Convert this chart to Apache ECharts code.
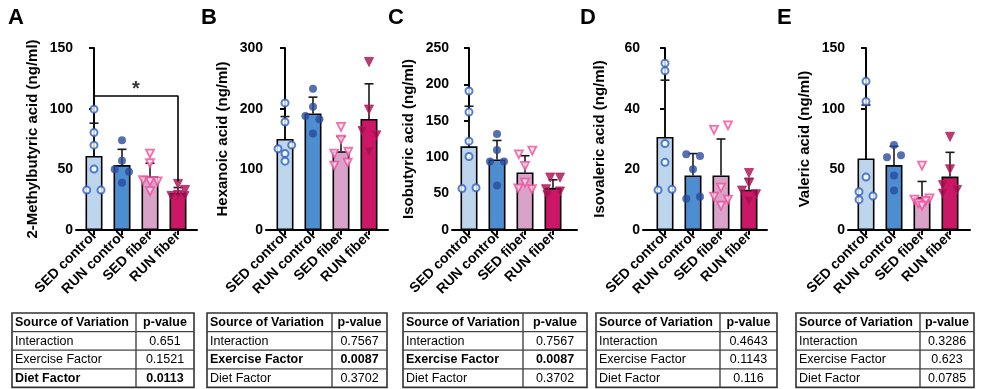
<!DOCTYPE html>
<html><head><meta charset="utf-8">
<script src="https://cdn.jsdelivr.net/npm/echarts@6/dist/echarts.min.js"></script>
<style>html,body{margin:0;padding:0;background:#fff}#c{width:981px;height:389px}</style>
</head><body><div id="c"></div>
<script>
// ---------- DATA ----------
const categories = ['SED control', 'RUN control', 'SED fiber', 'RUN fiber'];
const panelLetters = ['A', 'B', 'C', 'D', 'E'];
const yNames = ['2-Methylbutyric acid (ng/ml)', 'Hexanoic acid (ng/ml)', 'Isobutyric acid (ng/ml)', 'Isovaleric acid (ng/ml)', 'Valeric acid (ng/ml)'];
const yMax = [150, 300, 250, 60, 150];
const yStep = [50, 100, 50, 20, 50];

const meansA = [61, 53.5, 44, 30.5];
const sdA = [27, 13, 11, 4.5];
const pointsA = [[99.6, 80.4, 69.9, 50.2, 32.9, 32.9], [74, 57, 50, 48, 39], [63, 55, 41, 40, 40, 32], [38, 33, 29, 28, 28]];
const jitterA = [[0, 0, 0, 0, -0.26, 0.25], [0, 0, -0.26, 0.25, 0], [0, 0, -0.25, 0, 0.27, 0], [0, 0.25, 0, -0.23, 0.23]];

const meansB = [150, 192, 130, 183];
const sdB = [37, 27, 24, 58];
const pointsB = [[209.5, 178, 140, 134, 126, 113.5], [233, 203, 188, 182.6, 159], [170, 149, 129, 126, 111, 106], [277, 198.5, 163, 156, 129]];
const jitterB = [[0, 0, 0.24, -0.25, 0, 0], [0, 0, -0.27, 0.23, 0], [0, 0, 0.26, -0.24, 0.24, -0.24], [0, 0, -0.23, 0.26, 0]];

const meansC = [115, 97, 79, 58];
const sdC = [55, 26, 23, 11];
const pointsC = [[191, 162, 122, 101, 57, 58], [132, 110, 94, 94, 61], [109, 104, 88, 65, 57, 56], [72, 72, 56, 53, 48]];
const jitterC = [[0, 0, 0, 0, -0.25, 0.25], [0, 0, -0.25, 0.25, 0], [0.26, -0.22, 0, 0, -0.24, 0.25], [-0.1, 0.25, -0.25, 0.25, -0.2]];

const meansD = [30.7, 18, 18, 13.3];
const sdD = [18.7, 7.2, 12, 3.7];
const pointsD = [[55, 52.5, 28.5, 22.3, 13.2, 13.4], [25, 24.4, 20, 11, 10.3], [34.5, 33, 14, 11, 10, 8], [18.8, 15.5, 13, 11.8, 9.5]];
const jitterD = [[0, 0, 0, 0, -0.25, 0.25], [-0.24, 0.25, 0, 0.25, -0.24], [0.25, -0.25, 0, -0.25, 0.25, 0], [0, 0, -0.25, 0.25, 0]];

const meansE = [59, 53.5, 27, 44];
const sdE = [44, 15.5, 13, 20];
const pointsE = [[122.5, 106, 43.6, 31.5, 28, 25], [70, 61.6, 60, 45, 32.6], [53, 26, 25, 24, 22, 20], [76.8, 50, 37, 33, 30]];
const jitterE = [[0, 0, 0, -0.25, 0.25, -0.25], [0, 0.25, -0.25, 0, 0], [0, 0.27, -0.27, 0.13, -0.13, 0], [0, 0, -0.25, 0.25, -0.25]];

// significance bracket (panel A), in data units
const bracketA = [[0, 107], [0, 110.5], [3, 110.5], [3, 40]];
const starA = [[1.5, 116]];

const tableSources = ['Interaction', 'Exercise Factor', 'Diet Factor'];
const pValuesA = ['0.651', '0.1521', '0.0113'];
const pValuesB = ['0.7567', '0.0087', '0.3702'];
const pValuesC = ['0.7567', '0.0087', '0.3702'];
const pValuesD = ['0.4643', '0.1143', '0.116'];
const pValuesE = ['0.3286', '0.623', '0.0785'];

// ---------- LAYOUT / STYLE ----------
const FF = '"Liberation Sans", Arial, Helvetica, sans-serif';
const axisX = [76, 266, 452, 643, 848];
const firstCenter = [94, 285, 469, 665, 866];
const axisEnd = [197, 388, 577, 767, 970];
const spacing = 28;
const letterX = [8, 201, 388, 580, 777];
const tableCols = [[12, 136, 194], [207, 332, 387], [403, 523, 587], [596, 720, 777], [796, 920, 974]];
const tableTop = 313, rowH = 18.6;

const barColors = ['#bdd6ee', '#4d8ed0', '#d9a2c9', '#cc1666'];
const pointStyles = [
  { symbol: 'circle', symbolSize: 7, symbolRotate: 0, itemStyle: { color: '#ffffff', borderColor: '#2c5fc0', borderWidth: 2 } },
  { symbol: 'circle', symbolSize: 8, symbolRotate: 0, itemStyle: { color: '#2a4b9e', borderColor: '#2a4b9e', borderWidth: 0 } },
  { symbol: 'triangle', symbolSize: 8, symbolRotate: 180, itemStyle: { color: '#fde6f1', borderColor: '#f04c9a', borderWidth: 1.8 } },
  { symbol: 'triangle', symbolSize: 9, symbolRotate: 180, itemStyle: { color: '#a3124f', borderColor: '#c21a62', borderWidth: 1 } }
];

const panels = [
  { means: meansA, sd: sdA, pts: pointsA, jit: jitterA, p: pValuesA },
  { means: meansB, sd: sdB, pts: pointsB, jit: jitterB, p: pValuesB },
  { means: meansC, sd: sdC, pts: pointsC, jit: jitterC, p: pValuesC },
  { means: meansD, sd: sdD, pts: pointsD, jit: jitterD, p: pValuesD },
  { means: meansE, sd: sdE, pts: pointsE, jit: jitterE, p: pValuesE }
];

const grids = [], xAxes = [], yAxes = [], series = [], graphics = [];
const txt = { color: '#000', fontFamily: FF, fontWeight: 'bold' };

panels.forEach((pn, k) => {
  grids.push({ left: axisX[k], top: 48, width: axisEnd[k] - axisX[k], height: 182, containLabel: false, outerBoundsMode: 'none' });
  xAxes.push({
    gridIndex: k, type: 'value',
    min: (axisX[k] - firstCenter[k]) / spacing, max: (axisEnd[k] - firstCenter[k]) / spacing,
    axisLine: { show: true, onZero: false, lineStyle: { color: '#000', width: 2 } },
    axisTick: { show: true, customValues: [0, 1, 2, 3], length: 5, lineStyle: { color: '#000', width: 2 } },
    axisLabel: { show: true, customValues: [0, 1, 2, 3], formatter: v => categories[Math.round(v)], rotate: 45, margin: 4, fontSize: 14, ...txt },
    splitLine: { show: false }
  });
  yAxes.push({
    gridIndex: k, type: 'value', min: 0, max: yMax[k], interval: yStep[k],
    name: yNames[k], nameLocation: 'middle', nameRotate: 90, nameGap: 36,
    nameTextStyle: { fontSize: 15, ...txt },
    axisLine: { show: true, lineStyle: { color: '#000', width: 2 } },
    axisTick: { show: true, length: 5, lineStyle: { color: '#000', width: 2 } },
    axisLabel: { margin: 3, fontSize: 14, ...txt },
    splitLine: { show: false }
  });
  series.push({
    type: 'bar', xAxisIndex: k, yAxisIndex: k, barWidth: 17, z: 2,
    data: pn.means.map((m, i) => ({ value: [i, m], itemStyle: { color: barColors[i], borderColor: '#000', borderWidth: 1.6 } }))
  });
  series.push({
    type: 'custom', xAxisIndex: k, yAxisIndex: k, z: 3,
    data: pn.means.map((m, i) => [i, m, pn.sd[i]]),
    renderItem: (params, api) => {
      const x = api.value(0), m = api.value(1), s = api.value(2);
      const p0 = api.coord([x, m]), p1 = api.coord([x, m + s]);
      const st = { stroke: '#1a1a1a', lineWidth: 1.6 };
      return { type: 'group', children: [
        { type: 'line', shape: { x1: p0[0], y1: p0[1], x2: p1[0], y2: p1[1] }, style: st },
        { type: 'line', shape: { x1: p1[0] - 4.5, y1: p1[1], x2: p1[0] + 4.5, y2: p1[1] }, style: st }
      ] };
    }
  });
  pn.pts.forEach((arr, g) => {
    series.push(Object.assign({
      type: 'scatter', xAxisIndex: k, yAxisIndex: k, z: 4,
      data: arr.map((v, j) => [g + pn.jit[g][j], v])
    }, pointStyles[g]));
  });
  graphics.push({ type: 'text', left: letterX[k], top: 7, style: { text: panelLetters[k], fontSize: 22, fontWeight: 'bold', fontFamily: FF, fill: '#000' } });
  const [l, d, r] = tableCols[k];
  const rows = [['Source of Variation', 'p-value', true]].concat(tableSources.map((s, i) => [s, pn.p[i], parseFloat(pn.p[i]) < 0.05]));
  const bottom = tableTop + rowH * rows.length;
  graphics.push({ type: 'rect', shape: { x: l, y: tableTop, width: r - l, height: bottom - tableTop }, style: { fill: '#fff', stroke: '#333', lineWidth: 1.6 }, z: 1 });
  graphics.push({ type: 'line', shape: { x1: d, y1: tableTop, x2: d, y2: bottom }, style: { stroke: '#444', lineWidth: 1.4 }, z: 2 });
  for (let i = 1; i < rows.length; i++) {
    const y = tableTop + rowH * i;
    graphics.push({ type: 'line', shape: { x1: l, y1: y, x2: r, y2: y }, style: { stroke: '#444', lineWidth: 1.2 }, z: 2 });
  }
  rows.forEach((row, i) => {
    const cy = tableTop + rowH * i + rowH / 2 + 0.5;
    const fw = row[2] ? 'bold' : 'normal';
    graphics.push({ type: 'text', x: l + 3, y: cy, z: 3, style: { text: row[0], fontSize: 12.5, fontWeight: fw, fontFamily: FF, fill: '#000', verticalAlign: 'middle', align: 'left' } });
    graphics.push({ type: 'text', x: (d + r) / 2, y: cy, z: 3, style: { text: row[1], fontSize: 12.5, fontWeight: fw, fontFamily: FF, fill: '#000', verticalAlign: 'middle', align: 'center' } });
  });
});

series.push({ type: 'line', xAxisIndex: 0, yAxisIndex: 0, z: 5, data: bracketA, symbol: 'none', lineStyle: { color: '#000', width: 1.6 } });
series.push({ type: 'scatter', xAxisIndex: 0, yAxisIndex: 0, z: 5, data: starA, symbolSize: 0,
  label: { show: true, position: 'inside', formatter: '*', fontSize: 20, ...txt } });

const chart = echarts.init(document.getElementById('c'), null, { renderer: 'canvas' });
chart.setOption({ animation: false, backgroundColor: '#fff', grid: grids, xAxis: xAxes, yAxis: yAxes, series: series, graphic: graphics });
</script>
</body></html>
